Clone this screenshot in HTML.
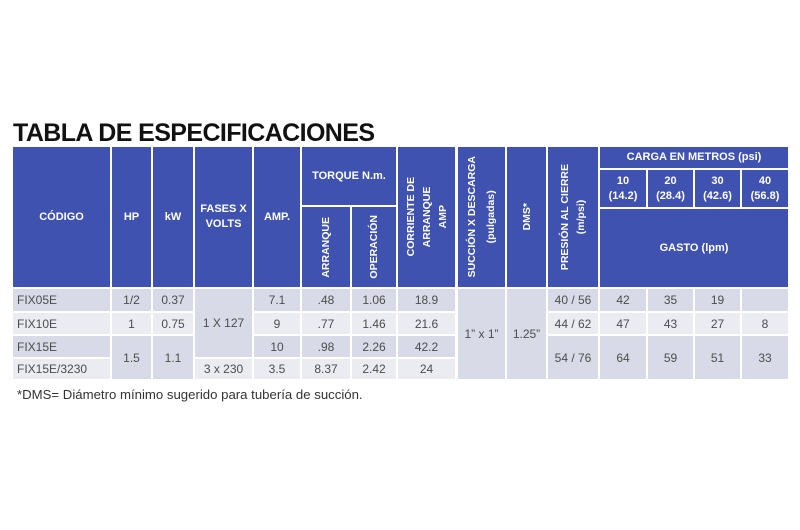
<!DOCTYPE html>
<html><head><meta charset="utf-8">
<style>
html,body{margin:0;padding:0;background:#fff;}
body{width:800px;height:530px;position:relative;overflow:hidden;font-family:"Liberation Sans",Arial,sans-serif;}
.t{position:absolute;left:13px;top:121px;font-size:25px;line-height:25px;font-weight:bold;color:#111;letter-spacing:-0.6px;white-space:nowrap;}
.c{position:absolute;display:flex;align-items:center;justify-content:center;text-align:center;box-sizing:border-box;}
.h{background:#4052b0;color:#fff;font-weight:bold;font-size:11px;line-height:15px;}
.v span{writing-mode:vertical-rl;transform:rotate(180deg);font-size:10.5px;line-height:16px;white-space:nowrap;}
.d{color:#4d4d4d;font-size:12px;background:#d8dbe7;}
.l{background:#eaecf2;}
.left{justify-content:flex-start;padding-left:4px;}
.f{position:absolute;left:17px;top:387px;font-size:13.2px;line-height:16px;color:#333;white-space:nowrap;}
</style></head><body>
<div class="t">TABLA DE ESPECIFICACIONES</div>

<!-- header -->
<div class="c h" style="left:13px;top:147px;width:97px;height:140px;">CÓDIGO</div>
<div class="c h" style="left:112px;top:147px;width:39px;height:140px;">HP</div>
<div class="c h" style="left:153px;top:147px;width:40px;height:140px;">kW</div>
<div class="c h" style="left:195px;top:147px;width:57px;height:140px;">FASES X<br>VOLTS</div>
<div class="c h" style="left:254px;top:147px;width:46px;height:140px;">AMP.</div>
<div class="c h" style="left:302px;top:147px;width:94px;height:58px;">TORQUE N.m.</div>
<div class="c h v" style="left:302px;top:207px;width:48px;height:80px;"><span>ARRANQUE</span></div>
<div class="c h v" style="left:352px;top:207px;width:44px;height:80px;"><span>OPERACIÓN</span></div>
<div class="c h v" style="left:398px;top:147px;width:57px;height:140px;"><span>CORRIENTE DE<br>ARRANQUE<br>AMP</span></div>
<div class="c h v" style="left:458px;top:147px;width:47px;height:140px;"><span style="line-height:19px">SUCCIÓN X DESCARGA<br>(pulgadas)</span></div>
<div class="c h v" style="left:507px;top:147px;width:39px;height:140px;"><span>DMS*</span></div>
<div class="c h v" style="left:548px;top:147px;width:50px;height:140px;"><span>PRESIÓN AL CIERRE<br>(m/psi)</span></div>
<div class="c h" style="left:600px;top:147px;width:188px;height:21px;">CARGA EN METROS (psi)</div>
<div class="c h" style="left:600px;top:170px;width:46px;height:37px;">10<br>(14.2)</div>
<div class="c h" style="left:648px;top:170px;width:45px;height:37px;">20<br>(28.4)</div>
<div class="c h" style="left:695px;top:170px;width:45px;height:37px;">30<br>(42.6)</div>
<div class="c h" style="left:742px;top:170px;width:46px;height:37px;">40<br>(56.8)</div>
<div class="c h" style="left:600px;top:209px;width:188px;height:78px;">GASTO (lpm)</div>

<!-- row 1 -->
<div class="c d left" style="left:13px;top:289px;width:97px;height:22px;">FIX05E</div>
<div class="c d" style="left:112px;top:289px;width:39px;height:22px;">1/2</div>
<div class="c d" style="left:153px;top:289px;width:40px;height:22px;">0.37</div>
<div class="c d" style="left:195px;top:289px;width:57px;height:68px;">1 X 127</div>
<div class="c d" style="left:254px;top:289px;width:46px;height:22px;">7.1</div>
<div class="c d" style="left:302px;top:289px;width:48px;height:22px;">.48</div>
<div class="c d" style="left:352px;top:289px;width:44px;height:22px;">1.06</div>
<div class="c d" style="left:398px;top:289px;width:57px;height:22px;">18.9</div>
<div class="c d" style="left:458px;top:289px;width:47px;height:90px;">1” x 1”</div>
<div class="c d" style="left:507px;top:289px;width:39px;height:90px;">1.25”</div>
<div class="c d" style="left:548px;top:289px;width:50px;height:22px;">40 / 56</div>
<div class="c d" style="left:600px;top:289px;width:46px;height:22px;">42</div>
<div class="c d" style="left:648px;top:289px;width:45px;height:22px;">35</div>
<div class="c d" style="left:695px;top:289px;width:45px;height:22px;">19</div>
<div class="c d" style="left:742px;top:289px;width:46px;height:22px;"></div>

<!-- row 2 -->
<div class="c d l left" style="left:13px;top:313px;width:97px;height:21px;">FIX10E</div>
<div class="c d l" style="left:112px;top:313px;width:39px;height:21px;">1</div>
<div class="c d l" style="left:153px;top:313px;width:40px;height:21px;">0.75</div>
<div class="c d l" style="left:254px;top:313px;width:46px;height:21px;">9</div>
<div class="c d l" style="left:302px;top:313px;width:48px;height:21px;">.77</div>
<div class="c d l" style="left:352px;top:313px;width:44px;height:21px;">1.46</div>
<div class="c d l" style="left:398px;top:313px;width:57px;height:21px;">21.6</div>
<div class="c d l" style="left:548px;top:313px;width:50px;height:21px;">44 / 62</div>
<div class="c d l" style="left:600px;top:313px;width:46px;height:21px;">47</div>
<div class="c d l" style="left:648px;top:313px;width:45px;height:21px;">43</div>
<div class="c d l" style="left:695px;top:313px;width:45px;height:21px;">27</div>
<div class="c d l" style="left:742px;top:313px;width:46px;height:21px;">8</div>

<!-- row 3 -->
<div class="c d left" style="left:13px;top:336px;width:97px;height:21px;">FIX15E</div>
<div class="c d" style="left:112px;top:336px;width:39px;height:43px;">1.5</div>
<div class="c d" style="left:153px;top:336px;width:40px;height:43px;">1.1</div>
<div class="c d" style="left:254px;top:336px;width:46px;height:21px;">10</div>
<div class="c d" style="left:302px;top:336px;width:48px;height:21px;">.98</div>
<div class="c d" style="left:352px;top:336px;width:44px;height:21px;">2.26</div>
<div class="c d" style="left:398px;top:336px;width:57px;height:21px;">42.2</div>
<div class="c d" style="left:548px;top:336px;width:50px;height:43px;">54 / 76</div>
<div class="c d" style="left:600px;top:336px;width:46px;height:43px;">64</div>
<div class="c d" style="left:648px;top:336px;width:45px;height:43px;">59</div>
<div class="c d" style="left:695px;top:336px;width:45px;height:43px;">51</div>
<div class="c d" style="left:742px;top:336px;width:46px;height:43px;">33</div>

<!-- row 4 -->
<div class="c d l left" style="left:13px;top:359px;width:97px;height:20px;">FIX15E/3230</div>
<div class="c d l" style="left:195px;top:359px;width:57px;height:20px;">3 x 230</div>
<div class="c d l" style="left:254px;top:359px;width:46px;height:20px;">3.5</div>
<div class="c d l" style="left:302px;top:359px;width:48px;height:20px;">8.37</div>
<div class="c d l" style="left:352px;top:359px;width:44px;height:20px;">2.42</div>
<div class="c d l" style="left:398px;top:359px;width:57px;height:20px;">24</div>

<div class="f">*DMS= Diámetro mínimo sugerido para tubería de succión.</div>
</body></html>
